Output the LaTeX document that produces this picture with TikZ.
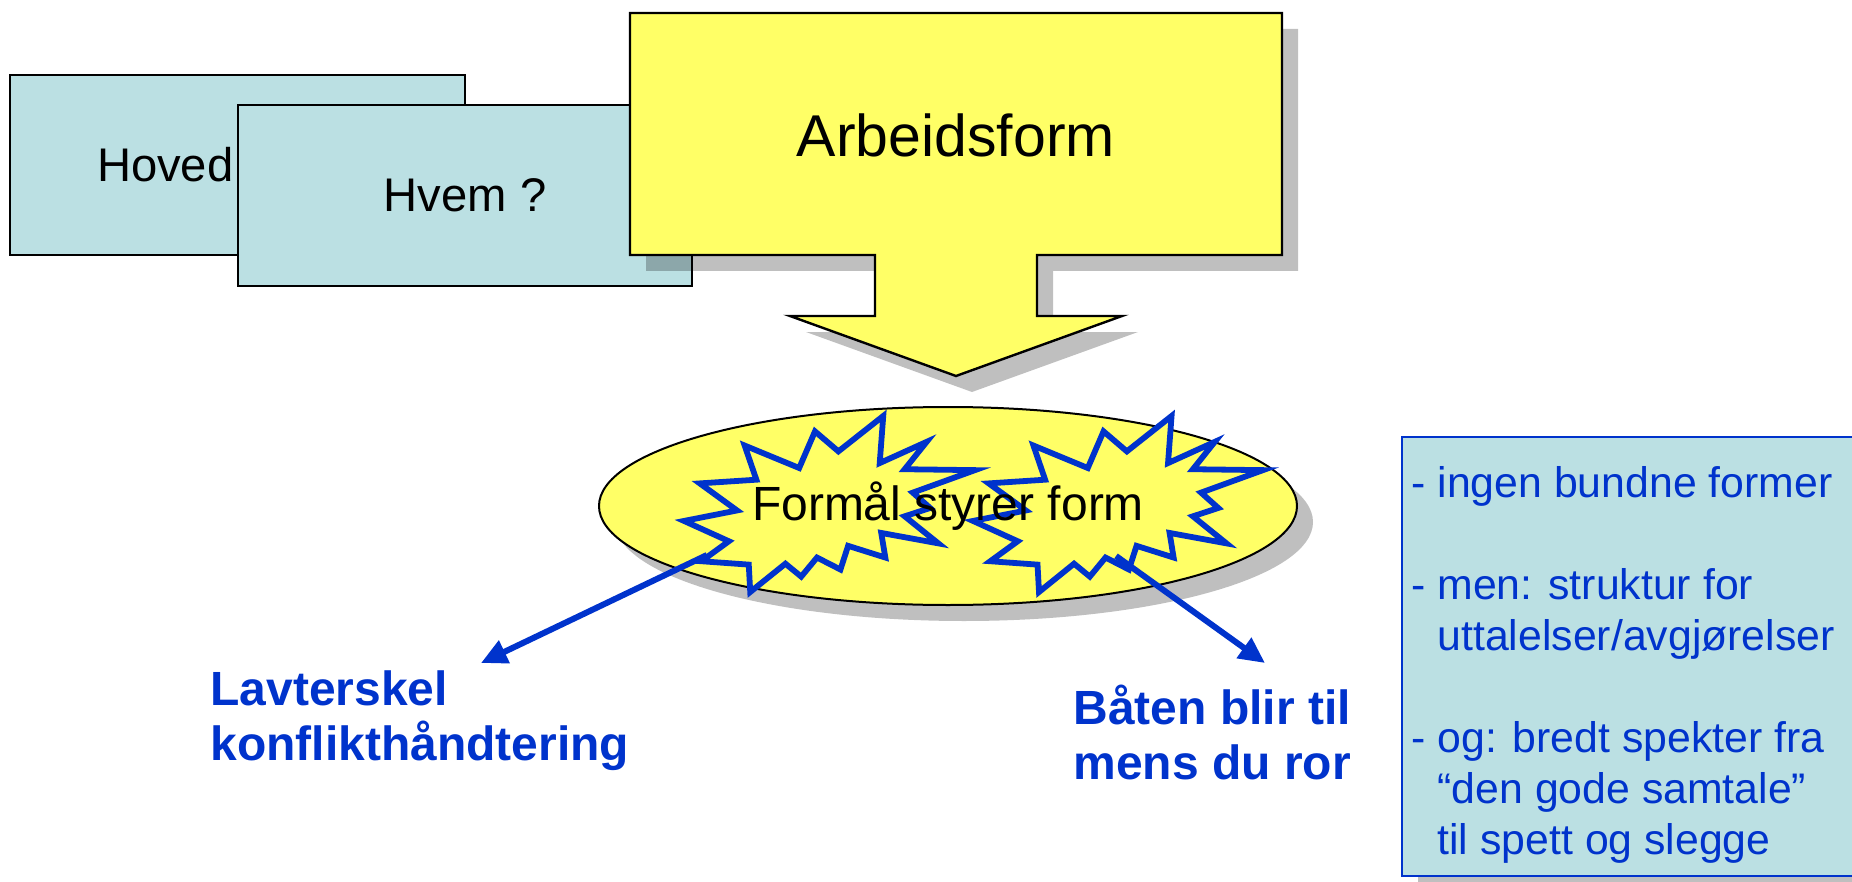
\documentclass[tikz,border=0pt]{standalone}
\usepackage{fontspec}
\setmainfont{Liberation Sans}
\usetikzlibrary{shapes.geometric}
\usetikzlibrary{shadows}
\usetikzlibrary{arrows.meta}
\definecolor{pptteal}{HTML}{BBE0E3}
\definecolor{pptyellow}{HTML}{FFFF66}
\definecolor{pptblue}{HTML}{0033CC}
\tikzset{castshadow/.style={drop shadow={shadow xshift=8pt, shadow yshift=-8pt, fill=black, opacity=0.25}}}
\tikzset{tealbox/.style={draw, line width=1pt, fill=pptteal, anchor=north west, font=\fontsize{23.6}{28}\selectfont}}
\tikzset{burstline/.style={draw=pptblue, line width=2.9pt, fill=pptyellow}}
\tikzset{bluearrow/.style={draw=pptblue, line width=3pt, -{Triangle[length=13pt, width=12pt]}}}
\tikzset{bluelabel/.style={text=pptblue, font=\bfseries\fontsize{24}{27.5}\selectfont, align=left, anchor=north west, inner sep=0pt}}
\tikzset{explosion/.pic={
  \draw[burstline] (53.06,20.10) -- (68.47,0) -- (67.25,26.75) -- (83.37,14.69) -- (75.83,30.24) -- (100,30.76) -- (78.63,43.53) -- (84.58,52.27) -- (75.83,56.99) -- (87.39,72.37) -- (67.78,66.44) -- (69.18,80.42) -- (56.39,73.77) -- (53.76,87.23) -- (45.70,80.42) -- (40.28,91.26) -- (34.85,83.91) -- (22.76,100) -- (22.25,84.44) -- (5.95,82.52) -- (15.42,71.16) -- (0,59.62) -- (18.22,53.67) -- (5.43,38.29) -- (24.87,36.19) -- (20.84,16.78) -- (39.58,29.55) -- (45.01,8.74) -- cycle;
}}

\begin{document}
\begin{tikzpicture}[x=0.5pt, y=-0.5pt]
            \useasboundingbox (0,0) rectangle (1852,882);
            \clip (0,0) rectangle (1852,882);
            \node (hoved) [tealbox, minimum height=90pt, inner xsep=43.5pt, text width=140.5pt, align=left] at (9,74) {Hoved};
            \node (hvem) [tealbox, minimum width=227pt, minimum height=90.5pt] at (237,104) {Hvem ?};
            \draw [castshadow, line width=1.2pt, fill=pptyellow] (630,13) -- (1282,13) -- (1282,255) -- (1037,255) -- (1037,316) -- (1122,316) -- (956,376) -- (790,316) -- (875,316) -- (875,255) -- (630,255) -- cycle;
            \node (arbeid) [font=\fontsize{29.5}{35}\selectfont] at (956,135) {Arbeidsform};
            \node (formaal) [ellipse, draw, line width=1pt, fill=pptyellow, castshadow, minimum width=349pt, minimum height=99pt, inner sep=0pt] at (948,506) {};
            \pic [xscale=2.91, yscale=1.76] (lburst) at (684,416) {explosion};
            \pic [xscale=2.90, yscale=1.76] (rburst) at (973,416) {explosion};
            \node (formtxt) [font=\fontsize{24}{28}\selectfont] at (formaal) {Formål styrer form};
            \node (lavt) [bluelabel] at (210,670) {Lavterskel\\konflikthåndtering};
            \node (baat) [bluelabel] at (1073,685) {Båten blir til\\mens du ror};
            \coordinate (ltail) at (707,555);
            \coordinate (rtail) at (1116,556);
            \coordinate (ltip) at (481,663);
            \coordinate (rtip) at (1265,663);
            \draw [bluearrow] (ltail) -- (ltip);
            \draw [bluearrow] (rtail) -- (rtip);
            \node (notes) [draw=pptblue, line width=0.8pt, fill=pptteal, castshadow, anchor=north west, minimum width=240pt, minimum height=219.5pt] at (1401,436) {};
            \node (notetxt) [anchor=north west, inner sep=0pt, align=left, text=pptblue, font=\fontsize{21.4}{25.5}\selectfont] at (1411,466) {- ingen bundne former\\[25.5pt]- men: struktur for\\\phantom{-\ }uttalelser/avgjørelser\\[25.5pt]- og: bredt spekter fra\\\phantom{-\ }“den gode samtale”\\\phantom{-\ }til spett og slegge};
\end{tikzpicture}
\end{document}
